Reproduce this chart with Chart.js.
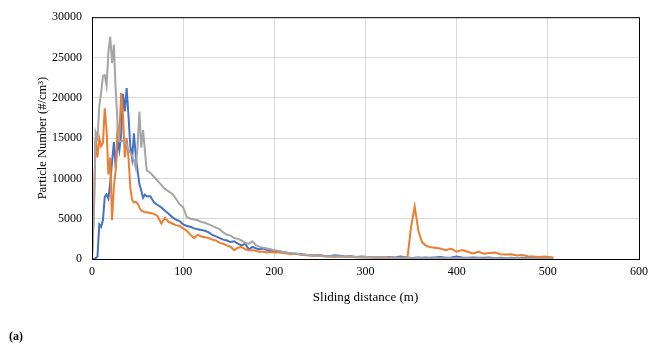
<!DOCTYPE html>
<html>
<head>
<meta charset="utf-8">
<script src="https://cdn.jsdelivr.net/npm/chart.js@4/dist/chart.umd.min.js"></script>
<style>
  body { margin: 0; background: #fff; }
  #wrap { position: relative; width: 654px; height: 346px; }
  #lbl { position: absolute; left: 9px; top: 329px; font: bold 12px "Liberation Serif", "Times New Roman", serif; color: #000; }
</style>
</head>
<body>
<div id="wrap">
  <canvas id="chart" width="654" height="346"></canvas>
  <div id="lbl">(a)</div>
</div>
<script>
// sliding distance (m)
var dist = [
  0,2,4,6,8,10,12,14,16,18,20,22,24,26,28,30,32,34,36,38,40,42,44,46,48,50,52,54,56,58,60,
  64,68,72,76,80,84,88,92,96,100,104,108,112,116,120,124,128,132,136,140,144,148,152,156,160,164,168,172,176,180,184,188,192,196,200,
  206,212,218,224,230,236,242,248,254,260,266,272,278,284,290,296,302,308,314,320,326,332,338,
  342,346,350,354,358,362,366,370,
  376,382,388,394,400,406,412,418,424,430,436,442,448,454,460,466,472,478,484,490,496,502,506
];

var blueVals = [
  0,0,100,300,4300,4000,4800,7700,8000,7500,9500,12000,14500,11300,14800,13500,15500,20500,18300,21200,17800,14000,12500,15600,12800,11000,9300,8500,7600,8000,7800,
  7800,7000,6700,6400,6000,5600,5200,4900,4700,4300,4100,4000,3800,3700,3600,3500,3300,3000,2800,2600,2400,2300,2100,2200,1900,1700,1900,1200,1500,1300,1200,1300,1100,1000,900,
  900,800,700,650,600,500,450,500,400,350,450,400,300,350,250,300,250,200,250,200,250,200,300,
  250,200,100,150,200,150,200,150,
  200,250,150,200,300,200,150,200,150,150,200,100,150,100,150,100,150,100,150,100,200,100,150
];

var orangeVals = [
  0,6000,15000,12600,15000,14000,14400,18700,16000,10500,12600,4800,9000,11000,16300,15500,20600,17900,12600,15000,12600,8900,7300,7000,7100,6900,6400,6000,5900,5800,5800,
  5700,5600,5300,4400,5100,4600,4400,4200,4100,3800,3500,3000,2600,3000,2800,2700,2600,2400,2300,2000,1900,1700,1500,1100,1400,1500,1200,1100,1100,1000,900,900,800,900,800,
  800,700,600,650,500,450,400,450,350,300,250,300,250,300,200,250,200,200,150,200,150,150,100,
  100,150,4000,6500,3500,2100,1700,1500,
  1400,1300,1100,1300,900,1100,900,700,900,650,750,800,600,550,600,450,500,350,300,250,300,250,200
];

var grayVals = [
  0,5000,15700,15000,19000,20600,22700,22800,21500,25700,27600,24300,26600,21000,17000,14600,14600,14700,14500,14200,13500,13200,12800,12200,11300,14000,18300,13800,16000,13500,11000,
  10700,10200,9700,9200,8700,8400,8100,7500,6800,6400,5200,5000,4900,4800,4600,4500,4300,4100,3900,3700,3300,3000,2900,2600,2500,2300,2000,1900,2200,1700,1500,1400,1300,1200,1100,
  1000,800,700,650,550,500,450,400,350,300,350,300,300,250,250,200,250,200,250,200,150,200,150,
  200,150,150,100,150,100,100,100,
  80,100,80,100,60,80,100,60,80,60,80,60,50,60,50,60,50,40,50,40,50,40,30
];

function pts(vals) {
  return vals.map(function (v, i) { return { x: dist[i], y: v }; });
}

var serif = '"Liberation Serif", "Times New Roman", serif';

// black frame round the plot area
var frame = {
  id: 'frame',
  afterDraw: function (chart) {
    var a = chart.chartArea, ctx = chart.ctx;
    ctx.save();
    ctx.strokeStyle = '#000';
    ctx.lineWidth = 1;
    ctx.strokeRect(a.left + 0.5, a.top + 0.5, a.right - a.left, a.bottom - a.top);
    ctx.restore();
  }
};

var ctx = document.getElementById('chart');
var myChart = new Chart(ctx, {
  type: 'line',
  data: {
    datasets: [
      { label: 'Blue', data: pts(blueVals), borderColor: '#4472C4', order: 3 },
      { label: 'Orange', data: pts(orangeVals), borderColor: '#ED7D31', order: 2 },
      { label: 'Gray', data: pts(grayVals), borderColor: '#A5A5A5', order: 1 }
    ]
  },
  options: {
    responsive: false,
    animation: false,
    layout: { padding: { left: 32, right: 12, top: 15, bottom: 37 } },
    elements: {
      point: { radius: 0 },
      line: { borderWidth: 2, tension: 0, fill: false }
    },
    plugins: {
      legend: { display: false },
      tooltip: { enabled: false }
    },
    scales: {
      x: {
        type: 'linear',
        min: 0,
        max: 600,
        afterFit: function (s) { s.height = 50; },
        ticks: { stepSize: 100, color: '#000', padding: 6, maxRotation: 0, font: { family: serif, size: 12 } },
        grid: { color: '#d9d9d9', drawTicks: false },
        border: { color: '#000', width: 1 },
        title: { display: true, text: 'Sliding distance (m)', color: '#000', padding: { top: 0, bottom: 4 }, font: { family: serif, size: 13 } }
      },
      y: {
        min: 0,
        max: 30000,
        afterFit: function (s) { s.width = 60; },
        ticks: {
          stepSize: 5000, color: '#000', padding: 10, font: { family: serif, size: 12 },
          callback: function (v) { return String(v); }
        },
        grid: { color: '#d9d9d9', drawTicks: false },
        border: { color: '#000', width: 1 },
        title: { display: true, text: 'Particle Number (#/cm³)', color: '#000', padding: { top: 3, bottom: 0 }, font: { family: serif, size: 12.5 } }
      }
    }
  },
  plugins: [frame]
});
</script>
</body>
</html>
